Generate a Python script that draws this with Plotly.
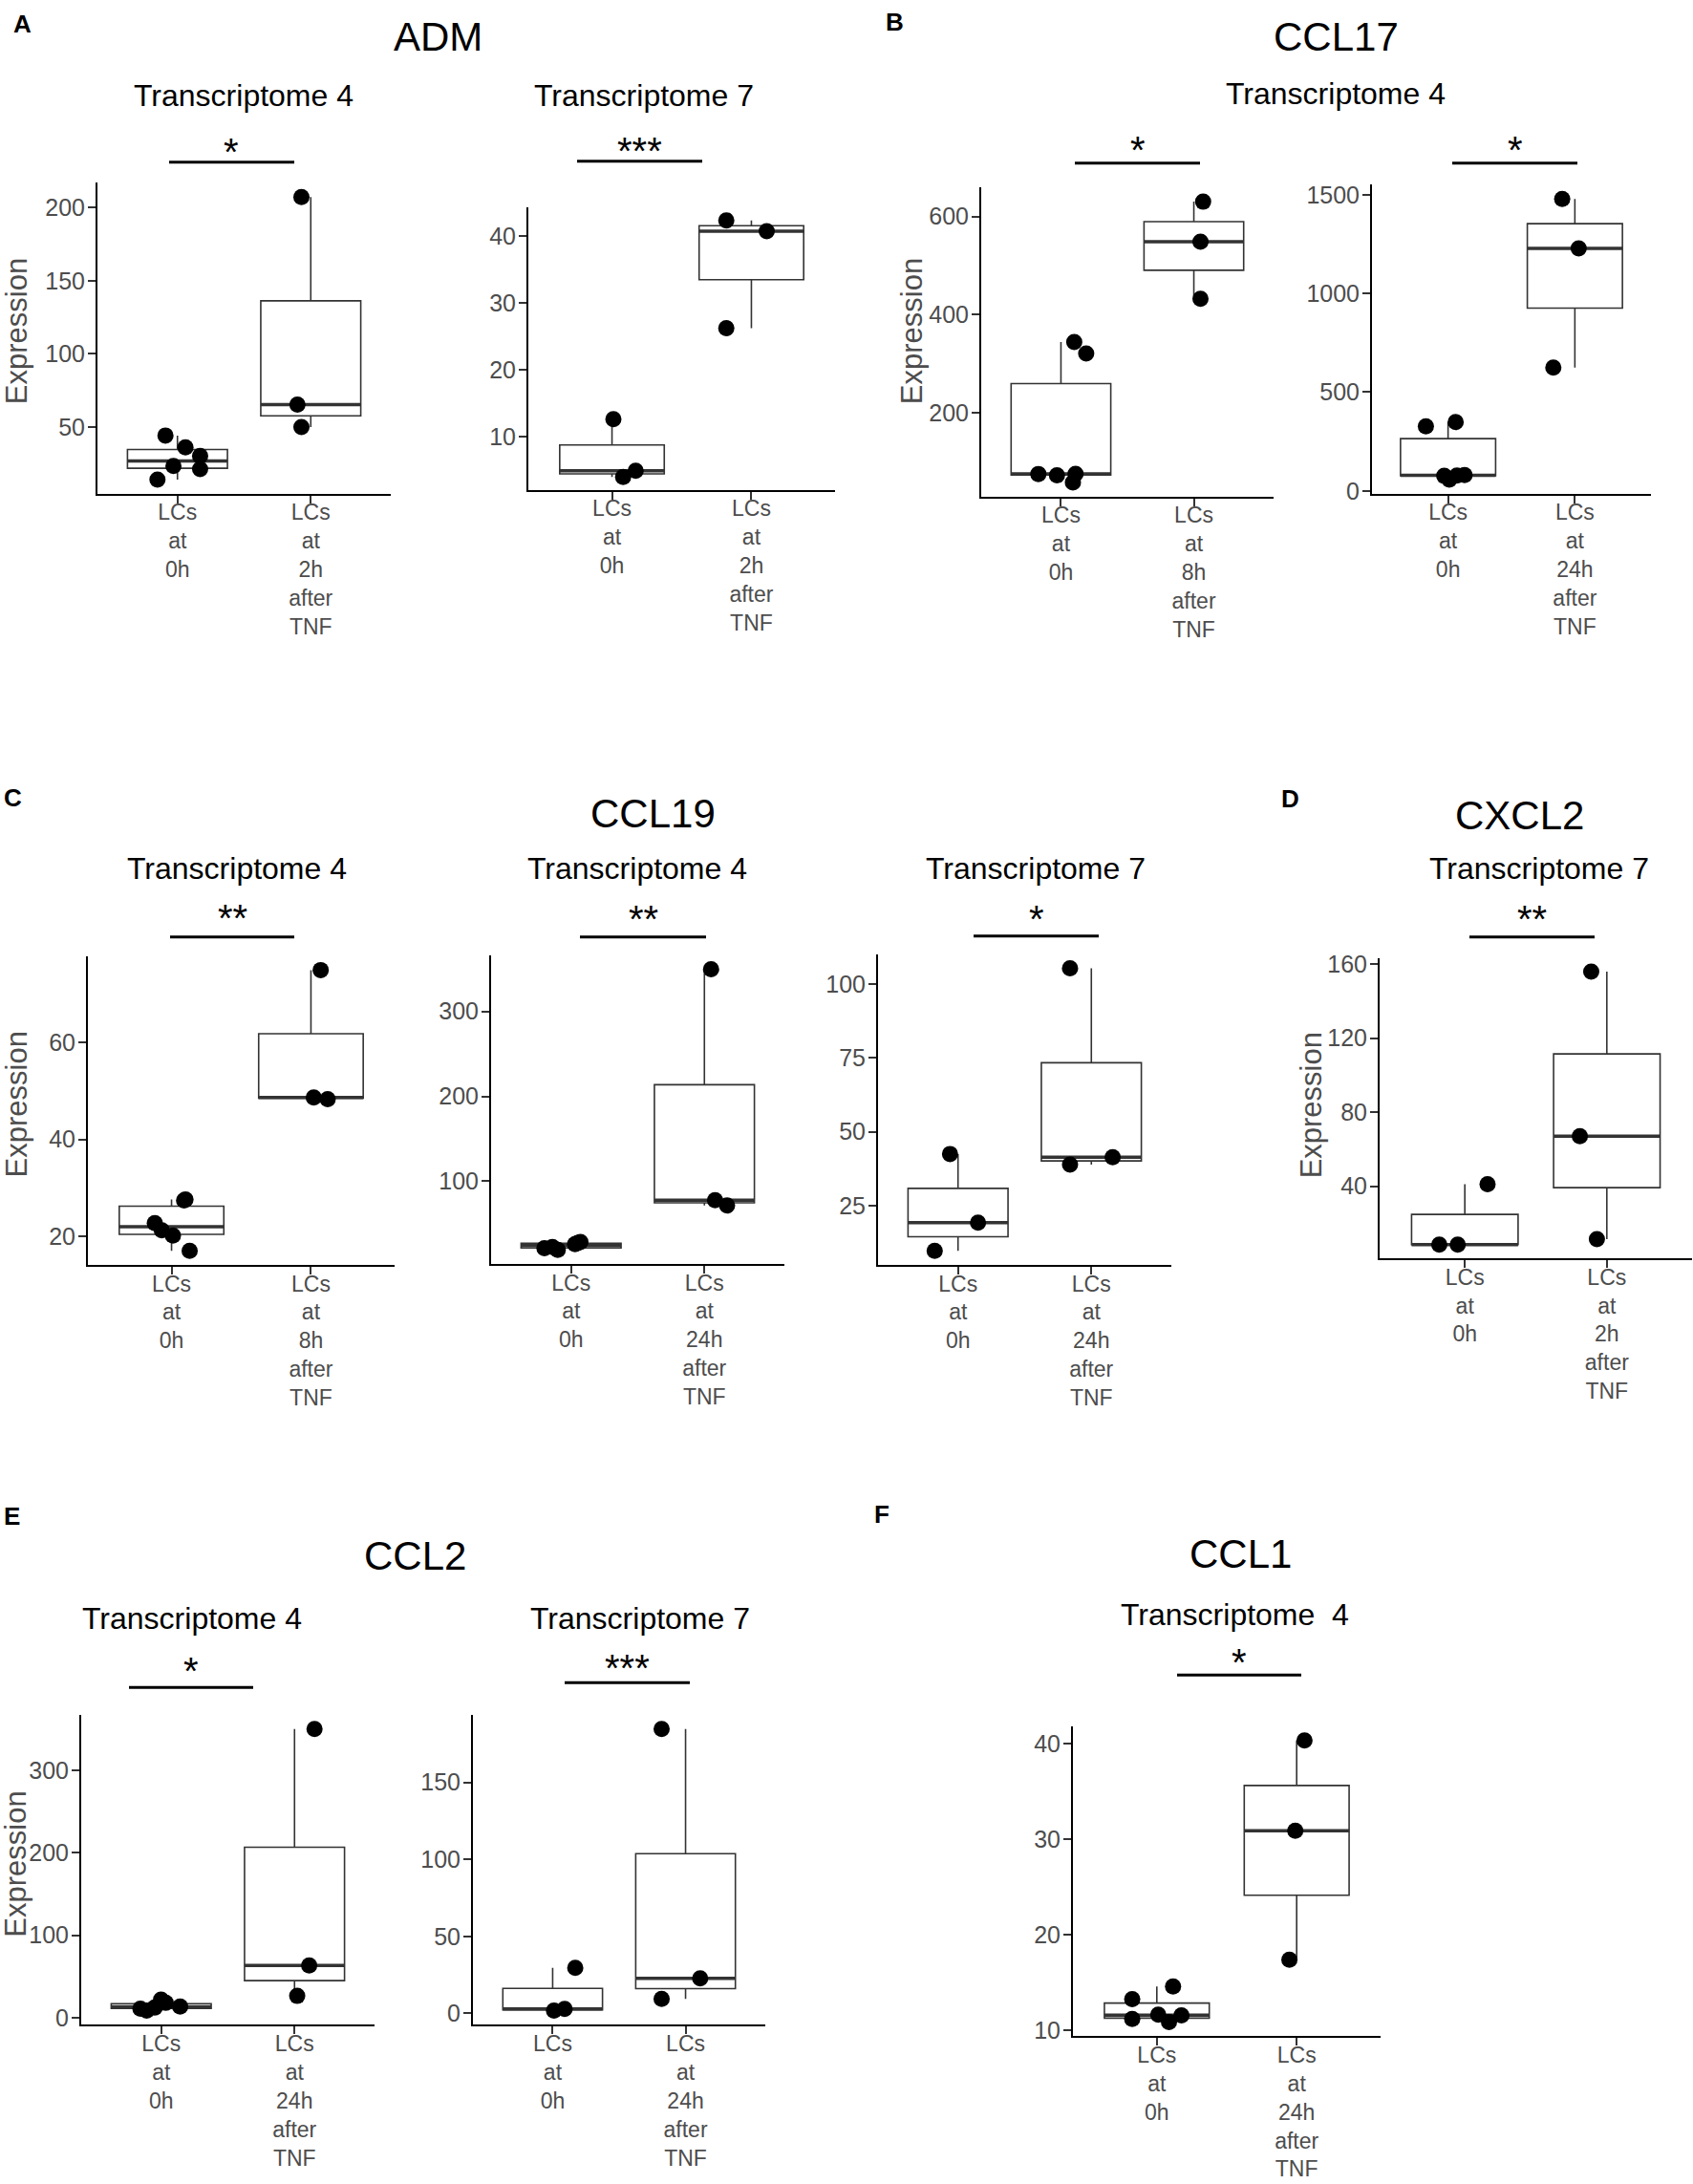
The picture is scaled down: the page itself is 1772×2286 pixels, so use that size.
import numpy as np
import plotly.graph_objects as go

W, H = 1772, 2286
FONT = "Liberation Sans, Arial, Helvetica, sans-serif"

# x tick labels
lab_0h = "LCs<br>at<br>0h"
lab_2h = "LCs<br>at<br>2h<br>after<br>TNF"
lab_8h = "LCs<br>at<br>8h<br>after<br>TNF"
lab_24h = "LCs<br>at<br>24h<br>after<br>TNF"

# ---- values (points + horizontal jitter) ----
# A  ADM
adm_t4_0h = [44.2, 36.1, 30.3, 23.4, 21.3, 14.1]
adm_t4_0h_jit = [-0.09, 0.06, 0.17, -0.03, 0.17, -0.15]
adm_t4_2h = [207.3, 65.3, 50.0]
adm_t4_2h_jit = [-0.07, -0.10, -0.07]
adm_t4_ticks = [50, 100, 150, 200]

adm_t7_0h = [12.6, 3.96, 4.9]
adm_t7_0h_jit = [0.01, 0.08, 0.17]
adm_t7_2h = [42.3, 40.7, 26.2]
adm_t7_2h_jit = [-0.18, 0.11, -0.18]
adm_t7_ticks = [10, 20, 30, 40]

# B  CCL17
ccl17_8h_0h = [344.0, 320.4, 74.8, 72.3, 75.2, 57.5]
ccl17_8h_0h_jit = [0.10, 0.19, -0.17, -0.03, 0.11, 0.09]
ccl17_8h_8h = [630.0, 548.5, 431.8]
ccl17_8h_8h_jit = [0.07, 0.05, 0.05]
ccl17_8h_ticks = [200, 400, 600]

ccl17_24h_0h = [326.5, 348.4, 76.0, 57.0, 78.0, 80.0]
ccl17_24h_0h_jit = [-0.175, 0.06, -0.03, 0.01, 0.07, 0.13]
ccl17_24h_24h = [1479.0, 1228.0, 624.0]
ccl17_24h_24h_jit = [-0.10, 0.03, -0.17]
ccl17_24h_ticks = [0, 500, 1000, 1500]

# C  CCL19
ccl19_t4a_0h = [27.6, 27.4, 22.75, 21.25, 20.14, 17.0]
ccl19_t4a_0h_jit = [0.10, 0.09, -0.12, -0.07, 0.01, 0.13]
ccl19_t4a_8h = [75.0, 48.7, 48.35]
ccl19_t4a_8h_jit = [0.07, 0.02, 0.12]
ccl19_t4a_ticks = [20, 40, 60]

ccl19_t4b_0h = [21.1, 19.2, 22.5, 26.0, 27.5, 28.5]
ccl19_t4b_0h_jit = [-0.20, -0.10, -0.14, 0.03, 0.05, 0.07]
ccl19_t4b_24h = [349.7, 77.6, 71.6]
ccl19_t4b_24h_jit = [0.05, 0.08, 0.17]
ccl19_t4b_ticks = [100, 200, 300]

ccl19_t7_0h = [42.5, 19.25, 9.77]
ccl19_t7_0h_jit = [-0.06, 0.15, -0.175]
ccl19_t7_24h = [105.3, 38.9, 41.4]
ccl19_t7_24h_jit = [-0.16, -0.16, 0.16]
ccl19_t7_ticks = [25, 50, 75, 100]

# D  CXCL2
cxcl2_0h = [8.46, 8.46, 41.1]
cxcl2_0h_jit = [-0.18, -0.05, 0.16]
cxcl2_2h = [155.9, 67.0, 11.4]
cxcl2_2h_jit = [-0.11, -0.19, -0.07]
cxcl2_ticks = [40, 80, 120, 160]

# E  CCL2
ccl2_t4_0h = [11.0, 8.6, 12.3, 21.9, 18.1, 13.5]
ccl2_t4_0h_jit = [-0.156, -0.109, -0.049, -0.001, 0.034, 0.142]
ccl2_t4_24h = [350.3, 63.5, 26.5]
ccl2_t4_24h_jit = [0.15, 0.11, 0.02]
ccl2_t4_ticks = [0, 100, 200, 300]

ccl2_t7_0h = [29.5, 1.7, 2.84]
ccl2_t7_0h_jit = [0.17, 0.01, 0.09]
ccl2_t7_24h = [184.7, 22.7, 9.4]
ccl2_t7_24h_jit = [-0.18, 0.11, -0.18]
ccl2_t7_ticks = [0, 50, 100, 150]

# F  CCL1
ccl1_0h = [13.22, 14.55, 11.15, 11.6, 10.83, 11.52]
ccl1_0h_jit = [-0.176, 0.116, -0.176, 0.01, 0.087, 0.176]
ccl1_24h = [40.37, 30.9, 17.36]
ccl1_24h_jit = [0.056, -0.01, -0.052]
ccl1_ticks = [10, 20, 30, 40]

# panel: data, labels, plot-area box in pixels (x0, x1, ytop, ybottom)
panels = [
    (adm_t4_0h, adm_t4_0h_jit, adm_t4_2h, adm_t4_2h_jit, lab_2h, adm_t4_ticks, (102, 409, 185, 513)),
    (adm_t7_0h, adm_t7_0h_jit, adm_t7_2h, adm_t7_2h_jit, lab_2h, adm_t7_ticks, (553, 874, 211, 509)),
    (ccl17_8h_0h, ccl17_8h_0h_jit, ccl17_8h_8h, ccl17_8h_8h_jit, lab_8h, ccl17_8h_ticks, (1027, 1333, 190, 516)),
    (ccl17_24h_0h, ccl17_24h_0h_jit, ccl17_24h_24h, ccl17_24h_24h_jit, lab_24h, ccl17_24h_ticks, (1436, 1728, 187, 513)),
    (ccl19_t4a_0h, ccl19_t4a_0h_jit, ccl19_t4a_8h, ccl19_t4a_8h_jit, lab_8h, ccl19_t4a_ticks, (92, 413, 1001, 1327)),
    (ccl19_t4b_0h, ccl19_t4b_0h_jit, ccl19_t4b_24h, ccl19_t4b_24h_jit, lab_24h, ccl19_t4b_ticks, (514, 821, 1000, 1326)),
    (ccl19_t7_0h, ccl19_t7_0h_jit, ccl19_t7_24h, ccl19_t7_24h_jit, lab_24h, ccl19_t7_ticks, (919, 1226, 999, 1327)),
    (cxcl2_0h, cxcl2_0h_jit, cxcl2_2h, cxcl2_2h_jit, lab_2h, cxcl2_ticks, (1444, 1771, 1003, 1320)),
    (ccl2_t4_0h, ccl2_t4_0h_jit, ccl2_t4_24h, ccl2_t4_24h_jit, lab_24h, ccl2_t4_ticks, (85, 392, 1802, 2129)),
    (ccl2_t7_0h, ccl2_t7_0h_jit, ccl2_t7_24h, ccl2_t7_24h_jit, lab_24h, ccl2_t7_ticks, (495, 801, 1802, 2129)),
    (ccl1_0h, ccl1_0h_jit, ccl1_24h, ccl1_24h_jit, lab_24h, ccl1_ticks, (1123, 1445, 1814, 2141)),
]

# text: (text, x px, y px)
letters = [("A", 23, 20), ("B", 937, 18), ("C", 13, 837), ("D", 1350, 838), ("E", 12, 1595), ("F", 923, 1593)]
genes = [("ADM", 459, 34), ("CCL17", 1398, 34), ("CCL19", 683, 854), ("CXCL2", 1590, 856),
         ("CCL2", 434, 1637), ("CCL1", 1298, 1635)]
subtitles = [("Transcriptome 4", 255, 96), ("Transcriptome 7", 674, 96), ("Transcriptome 4", 1398, 94),
             ("Transcriptome 4", 248, 912), ("Transcriptome 4", 667, 912), ("Transcriptome 7", 1084, 912),
             ("Transcriptome 7", 1611, 912), ("Transcriptome 4", 201, 1703), ("Transcriptome 7", 670, 1703),
             ("Transcriptome  4", 1292, 1699)]
expr_titles = [(17, 342), (954, 342), (17, 1158), (1372, 1159), (17, 1960)]
# significance: (stars, x0, x1, bar y, star y) px
signif = [("*", 177, 308, 163, 148), ("***", 604, 735, 162, 147), ("*", 1125, 1256, 164, 146),
          ("*", 1520, 1651, 164, 146), ("**", 178, 308, 981, 957), ("**", 607, 739, 981, 958),
          ("*", 1019, 1150, 980, 958), ("**", 1538, 1669, 981, 958), ("*", 135, 265, 1773, 1752),
          ("***", 591, 722, 1768, 1749), ("*", 1232, 1362, 1760, 1743)]

BOXW = 0.75
TEXT_DY = -3  # text boxes sit a little low when centred


def px(x):
    return x / W


def py(y):
    return 1 - y / H


def box_stats(v):
    v = np.asarray(v, dtype=float)
    q1, med, q3 = np.percentile(v, [25, 50, 75])
    iqr = q3 - q1
    lo = v[v >= q1 - 1.5 * iqr].min()
    hi = v[v <= q3 + 1.5 * iqr].max()
    return q1, med, q3, lo, hi


def label(text, x, y, size, color="black", angle=0):
    return dict(text=text, x=px(x), y=py(y), xref="paper", yref="paper", xanchor="center",
                yanchor="middle", textangle=angle, showarrow=False,
                font=dict(family=FONT, size=size, color=color))


fig = go.Figure()
layout = dict(width=W, height=H, margin=dict(l=0, r=0, t=0, b=0), autosize=False,
              paper_bgcolor="white", plot_bgcolor="white", showlegend=False,
              font=dict(family=FONT))
annotations = []
shapes = []

for i, (v0, j0, v1, j1, lab1, ticks, (x0, x1, yt, yb)) in enumerate(panels):
    n = "" if i == 0 else str(i + 1)
    xa, ya = "x" + n, "y" + n
    stats = [box_stats(v0), box_stats(v1)]
    pos = [1, 2]
    fig.add_trace(go.Box(
        x=pos, q1=[s[0] for s in stats], median=[s[1] for s in stats], q3=[s[2] for s in stats],
        lowerfence=[s[3] for s in stats], upperfence=[s[4] for s in stats],
        width=BOXW, whiskerwidth=0, boxpoints=False, fillcolor="white",
        line=dict(color="#333333", width=1.6), xaxis=xa, yaxis=ya, hoverinfo="skip"))
    mx, my = [], []
    for p, s in zip(pos, stats):
        mx += [p - BOXW / 2, p + BOXW / 2, None]
        my += [s[1], s[1], None]
    fig.add_trace(go.Scatter(x=mx, y=my, mode="lines", line=dict(color="#333333", width=3.5),
                             xaxis=xa, yaxis=ya, hoverinfo="skip"))
    xs = [1 + j for j in j0] + [2 + j for j in j1]
    ys = list(v0) + list(v1)
    fig.add_trace(go.Scatter(x=xs, y=ys, mode="markers", marker=dict(color="black", size=17),
                             xaxis=xa, yaxis=ya, hoverinfo="skip"))
    lo, hi = min(ys), max(ys)
    pad = 0.05 * (hi - lo)
    axis_common = dict(showline=True, linecolor="black", linewidth=2, showgrid=False, zeroline=False,
                       ticks="outside", ticklen=8, tickwidth=2, tickcolor="#333333")
    layout["xaxis" + n] = dict(axis_common, domain=[px(x0), px(x1)], range=[0.4, 2.6],
                               tickvals=pos, ticktext=[lab_0h, lab1], anchor=ya,
                               ticklabelstandoff=-10,
                               tickfont=dict(family=FONT, size=23, color="#4d4d4d"))
    layout["yaxis" + n] = dict(axis_common, domain=[py(yb), py(yt)], range=[lo - pad, hi + pad],
                               tickvals=ticks, anchor=xa, ticklabelstandoff=-2,
                               tickfont=dict(family=FONT, size=25, color="#4d4d4d"))

for t, x, y in letters:
    annotations.append(label("<b>%s</b>" % t, x, y + TEXT_DY, 26))
for t, x, y in genes:
    annotations.append(label(t, x, y + TEXT_DY, 42))
for t, x, y in subtitles:
    annotations.append(label(t.replace("  ", "&nbsp; "), x, y + TEXT_DY, 32))
for x, y in expr_titles:
    annotations.append(label("Expression", x, y, 31, "#4d4d4d", -90))
for st, xa0, xa1, yb, ys in signif:
    shapes.append(dict(type="line", xref="paper", yref="paper", x0=px(xa0), x1=px(xa1),
                       y0=py(yb), y1=py(yb), line=dict(color="black", width=3)))
    annotations.append(label(st, (xa0 + xa1) / 2, ys + 4, 40))

layout["annotations"] = annotations
layout["shapes"] = shapes
fig.update_layout(**layout)

# drop the default page margin / scrollbars so the figure sits exactly in the window
page_fix = ("document.documentElement.style.margin='0';"
            "document.documentElement.style.overflow='hidden';"
            "document.body.style.margin='0';document.body.style.overflow='hidden';")
fig.write_html("out.html", config={"displayModeBar": False}, post_script=page_fix)
